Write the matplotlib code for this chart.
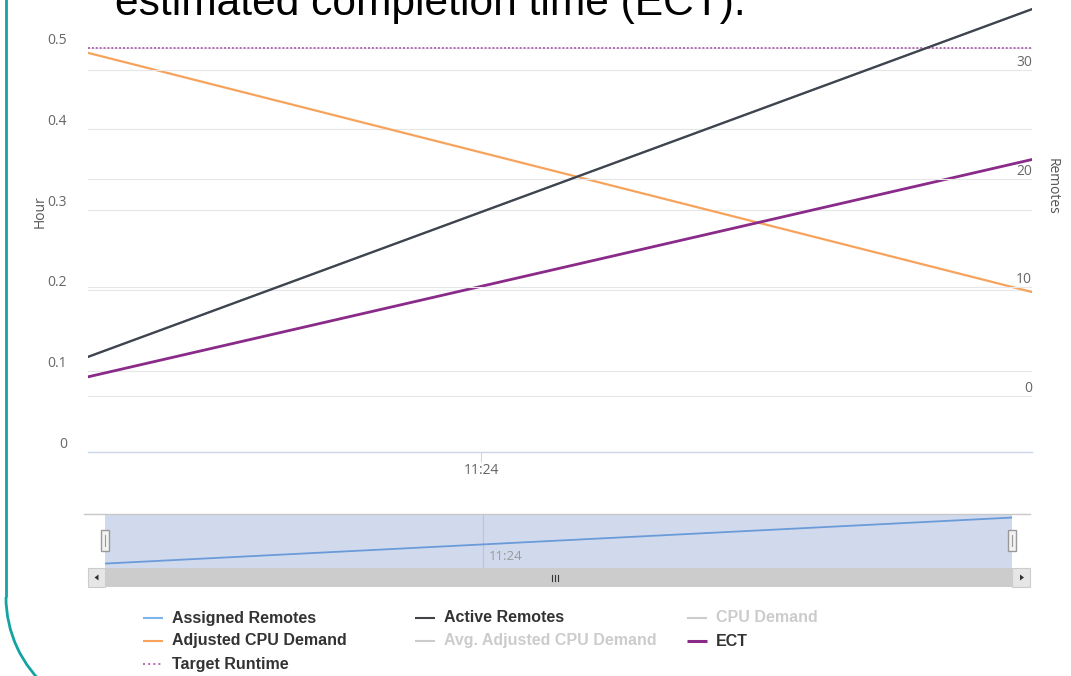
import numpy as np
import matplotlib
matplotlib.use("Agg")
import matplotlib.pyplot as plt
import matplotlib.dates as mdates
from matplotlib.patches import Rectangle, Arc, Polygon

plt.rcParams["font.family"] = ["Open Sans", "DejaVu Sans"]

# two samples: start / end of the job window
times = np.array(["2016-03-01T11:23:35", "2016-03-01T11:24:35"], dtype="datetime64[s]")
tick_time = np.datetime64("2016-03-01T11:24:00")

assigned_remotes = [3.6, 35.6]
active_remotes = [3.6, 35.6]
adjusted_cpu_demand = [0.494, 0.198]   # hours
ect = [0.093, 0.362]                   # hours
target_runtime = [0.5, 0.5]            # hours

hour_ticks = [0, 0.1, 0.2, 0.3, 0.4, 0.5]
hour_labels = ["0", "0.1", "0.2", "0.3", "0.4", "0.5"]
remote_ticks = [0, 10, 20, 30]
remote_labels = ["0", "10", "20", "30"]

legend_names = ["Assigned Remotes", "Active Remotes", "CPU Demand",
                "Adjusted CPU Demand", "Avg. Adjusted CPU Demand", "ECT",
                "Target Runtime"]
legend_colors = ["#7cb5ec", "#434348", "#cccccc", "#f7a35c", "#cccccc", "#8a2b8a", "#b469b4"]
legend_hidden = [False, False, True, False, True, False, False]
legend_styles = ["-", "-", "-", "-", "-", "-", ":"]
legend_widths = [1.5, 1.5, 1.5, 1.5, 1.5, 2.2, 1.4]

W, H = 1071, 676
fig = plt.figure(figsize=(W / 100, H / 100), dpi=100)
fig.patch.set_facecolor("white")


def box(l, t, r, b):
    # pixel box (from top-left) -> figure fraction rect
    return [l / W, 1 - b / H, (r - l) / W, (b - t) / H]


# main chart ------------------------------------------------------------
ax = fig.add_axes(box(88, 0, 1032, 452))
ax.set_facecolor("none")
ax.plot(times, adjusted_cpu_demand, color="#f7a35c", lw=1.6, zorder=3)
ax.plot(times, ect, color="#8a2b8a", lw=2.0, zorder=3)
ax.plot(times, target_runtime, color="#b469b4", lw=1.4, ls=(0, (1, 1)), zorder=3)
ax.set_xlim(times[0], times[-1])
ax.set_ylim(0, 452 / 808)
ax.set_yticks(hour_ticks)
ax.set_yticklabels(hour_labels)
for t in ax.get_yticklabels():
    t.set_va("bottom")
ax.grid(axis="y", color="#e6e6e6", lw=0.8)
ax.set_axisbelow(True)
for s in ["top", "left", "right"]:
    ax.spines[s].set_visible(False)
ax.spines["bottom"].set_color("#ccd6eb")
ax.spines["bottom"].set_linewidth(1.0)
ax.set_xticks([tick_time])
ax.xaxis.set_major_formatter(mdates.DateFormatter("%H:%M"))
ax.tick_params(axis="x", length=7, width=0.8, color="#ccd6eb",
               labelcolor="#666666", labelsize=10, pad=1)
ax.tick_params(axis="y", length=0, pad=15, labelcolor="#666666", labelsize=10)
ax.set_ylabel("Hour", color="#555555", fontsize=10, va="center")
ax.yaxis.set_label_coords((40 - 88) / 944, (452 - 212) / 452)

ax2 = ax.twinx()
ax2.plot(times, assigned_remotes, color="#7cb5ec", lw=1.6, zorder=2)
ax2.plot(times, active_remotes, color="#434348", lw=1.6, zorder=3)
ax2.set_ylim(-56 / 10.867, 396 / 10.867)
ax2.set_yticks(remote_ticks)
ax2.set_yticklabels(remote_labels)
for t in ax2.get_yticklabels():
    t.set_ha("right")
    t.set_va("bottom")
ax2.grid(axis="y", color="#e6e6e6", lw=0.8)
ax2.spines[:].set_visible(False)
ax2.tick_params(axis="y", length=0, pad=0, labelcolor="#666666", labelsize=10)
ax2.set_ylabel("Remotes", color="#555555", fontsize=10, rotation=-90, va="center")
ax2.yaxis.set_label_coords((1052 - 88) / 944, (452 - 186) / 452)

# navigator ---------------------------------------------------------------
nav = fig.add_axes(box(105, 514, 1012, 568))
nav.set_facecolor("#d1daed")
nav.plot(times, assigned_remotes, color="#6a9bd8", lw=1.3)
nav.set_xlim(times[0], times[-1])
nav.set_ylim(4 - 5 / 1.4375, 36 + 3 / 1.4375)
nav.set_yticks([])
nav.set_xticks([tick_time])
nav.set_xticklabels([])
nav.tick_params(axis="x", length=0)
nav.grid(axis="x", color="#bcc5d8", lw=0.8)
nav.spines[:].set_visible(False)
nav.annotate("11:24", xy=(tick_time, 0), xycoords=("data", "axes fraction"),
             xytext=(4, 6), textcoords="offset points", fontsize=9.5, color="#999999")

# overlay for decorations --------------------------------------------------
ov = fig.add_axes([0, 0, 1, 1], zorder=10)
ov.set_xlim(0, W)
ov.set_ylim(H, 0)
ov.axis("off")
ov.patch.set_alpha(0)

# slide heading (cut at top) and teal frame
ov.text(115, 15, "estimated completion time (ECT).", fontsize=30.6,
        family=["Liberation Sans", "DejaVu Sans"], color="black", va="baseline")
ov.plot([6, 6], [-5, 597], color="#13a3a3", lw=2, solid_capstyle="butt")
ov.add_patch(Arc((126, 597), 240, 240, theta1=130, theta2=180, color="#13a3a3", lw=2))

# navigator outline + handles
ov.plot([84, 1030], [514, 514], color="#c8c8c8", lw=1)
for hx in (105, 1012):
    ov.add_patch(Rectangle((hx - 4, 530), 8, 21, fc="#f2f2f2", ec="#999999", lw=1))
    ov.plot([hx, hx], [535, 546], color="#999999", lw=0.8)

# scrollbar
ov.add_patch(Rectangle((88, 568), 942, 19, fc="#f2f2f2", ec="none"))
ov.add_patch(Rectangle((105, 568), 907, 19, fc="#cccccc", ec="none"))
ov.add_patch(Rectangle((88, 568), 17, 19, fc="#e6e6e6", ec="#cccccc", lw=0.8))
ov.add_patch(Rectangle((1012, 568), 18, 19, fc="#e6e6e6", ec="#cccccc", lw=0.8))
ov.add_patch(Polygon([[94.5, 577.5], [98.5, 574.5], [98.5, 580.5]], fc="#333333", ec="none"))
ov.add_patch(Polygon([[1024, 577.5], [1020, 574.5], [1020, 580.5]], fc="#333333", ec="none"))
for gx in (552, 555, 558):
    ov.plot([gx, gx], [574.5, 581], color="#333333", lw=0.8)

# legend (3 columns, fixed item width)
row_y = [618, 641, 664]
for i, name in enumerate(legend_names):
    r, c = divmod(i, 3)
    x0 = 143 + 272 * c
    y = row_y[r]
    ov.plot([x0, x0 + 20], [y, y], color=legend_colors[i], lw=legend_widths[i],
            ls=legend_styles[i], solid_capstyle="butt")
    ov.text(x0 + 29, y, name, va="center", ha="left", fontsize=11.5, fontweight="bold",
            family=["Liberation Sans", "DejaVu Sans"],
            color="#cccccc" if legend_hidden[i] else "#333333")

fig.savefig("out.png", dpi=100)
